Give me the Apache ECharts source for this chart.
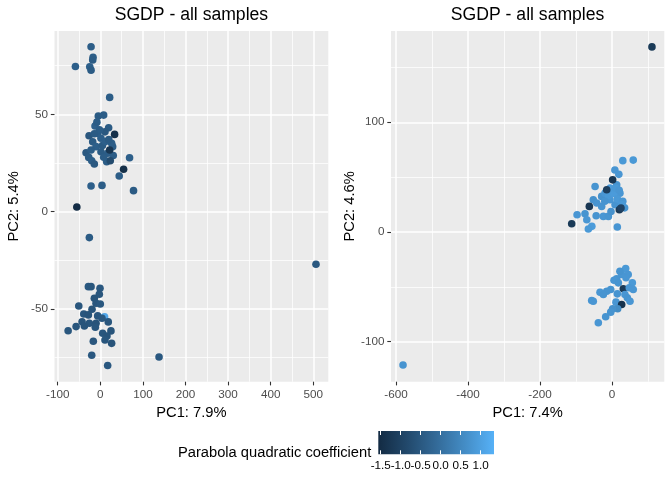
<!DOCTYPE html>
<html>
<head>
<meta charset="utf-8">
<script src="https://cdn.jsdelivr.net/npm/echarts@6/dist/echarts.min.js"></script>
<style>
  html, body { margin: 0; padding: 0; background: #fff; }
  #chart { width: 672px; height: 480px; }
</style>
</head>
<body>
<div id="chart"></div>
<script>
// left panel (PC1 7.9% / PC2 5.4%)
var leftPC1 = [
  -21.7, -58.4, -17, -17.8, -24.8, -21.7, 22, -4.7, 7.9, -12.4, 19.6, -26.4, -6.1, 1.6, 11,
  26.6, -17.8, -10, 29, -33.4, -21.7, 1.6, 17.3, 30.4, 68.7, -27.1, -20.1, -14, 15, 23.4,
  44.4, -21.7, 4, 78, -25.7, -8, -2, 5, 12, -14, 8, 20, 33.6, 22, 54.7, -55.1,
  506.3, 137.9, -28, -21.7, -0.7, -2.3, -14, -10, 0, -50.5, -19.4, -38.8, -28, -6.1, 10,
  4, 18.7, -42.8, -25.7, -10, -56.8, -37.4, -11.7, -75.5, 25, 5.6, 15.7, 11, -16.4, 26.6,
  -20.1, 17.3
];
var leftPC2 = [
  84.7, 74.6, 79.3, 77.9, 74.4, 72.7, 58.7, 49.1, 49.6, 44, 43.1, 39, 40.2, 37.7, 41,
  35.1, 35.9, 33.4, 33.4, 30.3, 31.7, 30.8, 30, 28.9, 27.7, 27.9, 26.2, 24.5, 25.7, 26.2,
  18.3, 13.2, 13.5, 10.8, -13.3, 46, 42, 34, 36, 40, 28, 37, 39.7, 31.7, 21.8, 2.4,
  -27, -74.6, -38.5, -38.5, -39.3, -42.4, -44.5, -47, -47.4, -48.4, -50.1, -52.5, -53, -53.5, -54,
  -54.7, -56.6, -56.5, -57.3, -57.3, -59, -58.7, -59.3, -61.1, -61.2, -62.4, -63.8, -65.9, -66.5, -67.6,
  -73.7, -79
];
var leftCoef = [
  -0.40, -0.35, -0.40, -0.45, -0.35, -0.45, -0.40, -0.45, -0.40, -0.30, -0.45, -0.55, -0.40, -0.35, -0.50,
  -0.40, -0.45, -0.35, -0.40, -0.50, -0.40, -0.45, -0.40, -0.40, -0.35, -0.45, -0.40, -0.50, -0.40, -0.80,
  -0.40, -0.35, -0.40, -0.45, -0.45, -0.40, -0.40, -0.45, -0.35, -0.45, -0.40, -0.45, -1.45, -1.30, -1.45, -1.50,
  -0.50, -0.50, -0.50, -0.55, -0.50, -0.55, -0.60, -0.55, -0.50, -0.55, -0.60, -0.55, -0.60, -0.55, 1.10,
  -0.50, -0.55, -0.60, -0.55, -0.60, -0.55, -0.60, -0.55, -0.55, -0.60, -0.55, -0.60, -0.55, -0.55, -0.60,
  -0.50, -0.50
];

// right panel (PC1 7.4% / PC2 4.6%)
var rightPC1 = [
  111, 30, 59, 8, 19, -47, 13, -97, -75, -70, -56, -65.7, 14.8, -44, -24, -10, -2.8,
  -52, -42.5, -28.7, -19.4, -1, 22, -28.7, -5.6, 8.3, 26.9, -10, 5, 15, 30, -5, 10, -20, 20, 35, 28,
  -112, -63, 1.8, -14.7, 20.4, 25,
  38, 26.9, 22, 45, 13, 5.6, 17.6, 38.9, 56.5, 31.5, 48, 59, -3.6, -14.7, -33.3, -24, 14.8,
  36, 42.6, 50, -56.5, -52, 11, 26.9, 15.7, 1.8, -3.6, -17.6, -38, -580.6
];
var rightPC2 = [
  168.7, 65, 65.5, 56.5, 52.5, 41.5, 43, 15.7, 16.6, 11.2, 5.1, 2.7, 4.5, 14.8, 14.2, 14.2, 18.7,
  29.4, 26.4, 32.4, 35.4, 38.5, 35.4, 23.3, 29.4, 24.8, 26.4, 33, 35, 30, 28, 40, 40, 28, 38, 22, 25,
  7.5, 23.3, 47.5, 38.5, 20.3, 21.8,
  -33.4, -38.8, -35.8, -38.8, -42.7, -44, -46.4, -41.8, -46.4, -51.8, -50.9, -52.5, -52.5, -54, -54.9, -57, -56.4,
  -57, -60, -63.1, -62.5, -63.1, -64, -66.1, -70, -70, -73.1, -77.3, -82.7, -121.3
];
var rightCoef = [
  -1.20, 0.85, 0.85, 0.80, 0.80, 0.75, 0.75, 0.80, 0.75, 0.80, 0.90, 0.85, 0.80, 0.75, 0.80, 0.75, 0.70,
  0.70, 0.75, 0.70, 0.80, 0.75, 0.80, 0.75, 0.80, 0.75, 0.80, 0.85, 0.90, 0.85, 0.80, 0.90, 0.85, 0.75, 0.80, 0.75, 0.85,
  -1.20, -1.30, -1.30, -1.10, -1.20, -1.00,
  0.85, 0.80, 0.75, 0.80, 0.75, 0.80, 0.75, 0.80, 0.85, -1.20, 0.80, 0.80, 0.75, 0.75, 0.80, 0.75, 0.75,
  0.80, 0.75, 0.80, 0.80, 0.80, 0.80, -1.40, 0.60, 0.70, 0.75, 0.75, 0.80, 0.75
];

// axis ticks (major) and minor grid positions
var leftXTicks = [-100, 0, 100, 200, 300, 400, 500];
var leftXMinor = [-50, 50, 150, 250, 350, 450];
var leftYTicks = [-50, 0, 50];
var leftYMinor = [-75, -25, 25, 75];
var rightXTicks = [-600, -400, -200, 0];
var rightXMinor = [-500, -300, -100, 100];
var rightYTicks = [-100, 0, 100];
var rightYMinor = [-50, 50, 150];
var barTicks = [-1.5, -1.0, -0.5, 0.0, 0.5, 1.0];

// ggplot default gradient (#132B43 -> #56B1F7, Lab interpolated)
var gradColors = ['#132B43', '#22496C', '#336A98', '#448DC6', '#56B1F7'];
var coefMin = -1.56, coefMax = 1.333;

var FONT = '"Liberation Sans", Arial, Helvetica, sans-serif';

function toPoints(xs, ys, cs) {
  return xs.map(function (x, i) { return [x, ys[i], cs[i]]; });
}

// a visible axis with ticks, labels, major grid lines
function panelAxis(grid, min, max, ticks, name, gap) {
  return {
    type: 'value',
    gridIndex: grid,
    min: min,
    max: max,
    name: name,
    nameLocation: 'middle',
    nameGap: gap,
    nameTextStyle: { fontFamily: FONT, fontSize: 14.7, color: '#000' },
    axisLine: { show: false, onZero: false },
    axisTick: { show: true, customValues: ticks, length: 3.7, lineStyle: { color: '#333333', width: 1.1 } },
    axisLabel: {
      show: true, customValues: ticks, margin: 6.6,
      fontFamily: FONT, fontSize: 11.7, color: '#4D4D4D'
    },
    splitLine: { show: true, showMinLine: true, showMaxLine: true, lineStyle: { color: '#FFFFFF', width: 1.5 } }
  };
}

// an invisible axis used only for the thin minor grid lines
function minorAxis(grid, min, max, ticks) {
  return {
    type: 'value',
    gridIndex: grid,
    min: min,
    max: max,
    axisLine: { show: false, onZero: false },
    axisTick: { show: false, customValues: ticks },
    axisLabel: { show: false, customValues: ticks },
    splitLine: { show: true, showMinLine: true, showMaxLine: true, lineStyle: { color: '#FFFFFF', width: 0.75 } }
  };
}

function barAxis(pos, withLabels) {
  return {
    type: 'value',
    gridIndex: 2,
    position: pos,
    min: coefMin,
    max: coefMax,
    axisLine: { show: false, onZero: false },
    axisTick: { show: true, inside: true, customValues: barTicks, length: 4, lineStyle: { color: '#FFFFFF', width: 1 } },
    axisLabel: {
      show: withLabels, customValues: barTicks, margin: 5.4,
      fontFamily: FONT, fontSize: 11.7, color: '#000',
      formatter: function (v) { return v.toFixed(1); }
    },
    splitLine: { show: false }
  };
}

var chart = echarts.init(document.getElementById('chart'), null, { renderer: 'canvas' });

var option = {
  animation: false,
  backgroundColor: '#FFFFFF',
  grid: [
    { left: 54.5, top: 31, width: 273.8, height: 350.7, show: true, backgroundColor: '#EBEBEB', borderWidth: 0, containLabel: false, outerBoundsMode: 'none' },
    { left: 391, top: 31, width: 273.3, height: 350.7, show: true, backgroundColor: '#EBEBEB', borderWidth: 0, containLabel: false, outerBoundsMode: 'none' },
    {
      left: 378.3, top: 431, width: 115.7, height: 23.3, show: true, borderWidth: 0, containLabel: false, outerBoundsMode: 'none',
      backgroundColor: {
        type: 'linear', x: 0, y: 0, x2: 1, y2: 0,
        colorStops: gradColors.map(function (c, i) { return { offset: i / (gradColors.length - 1), color: c }; })
      }
    }
  ],
  xAxis: [
    panelAxis(0, -107.5, 535.2, leftXTicks, 'PC1: 7.9%', 20),
    panelAxis(1, -614, 145.3, rightXTicks, 'PC1: 7.4%', 20),
    barAxis('bottom', true),
    barAxis('top', false),
    minorAxis(0, -107.5, 535.2, leftXMinor),
    minorAxis(1, -614, 145.3, rightXMinor)
  ],
  yAxis: [
    panelAxis(0, -87.3, 92.8, leftYTicks, 'PC2: 5.4%', 33),
    panelAxis(1, -136.5, 183.2, rightYTicks, 'PC2: 4.6%', 33),
    { type: 'value', gridIndex: 2, min: 0, max: 1, show: false, splitLine: { show: false } },
    minorAxis(0, -87.3, 92.8, leftYMinor),
    minorAxis(1, -136.5, 183.2, rightYMinor)
  ],
  visualMap: {
    type: 'continuous',
    show: false,
    dimension: 2,
    seriesIndex: [0, 1],
    min: coefMin,
    max: coefMax,
    inRange: { color: gradColors }
  },
  series: [
    {
      type: 'scatter', xAxisIndex: 0, yAxisIndex: 0,
      symbolSize: 7.6, itemStyle: { opacity: 1 },
      emphasis: { disabled: true }, silent: true,
      data: toPoints(leftPC1, leftPC2, leftCoef)
    },
    {
      type: 'scatter', xAxisIndex: 1, yAxisIndex: 1,
      symbolSize: 7.6, itemStyle: { opacity: 1 },
      emphasis: { disabled: true }, silent: true,
      data: toPoints(rightPC1, rightPC2, rightCoef)
    }
  ],
  graphic: [
    { type: 'text', x: 191.4, y: 15, silent: true,
      style: { text: 'SGDP - all samples', font: '17.6px ' + FONT, fill: '#000', textAlign: 'center', textVerticalAlign: 'middle' } },
    { type: 'text', x: 527.6, y: 15, silent: true,
      style: { text: 'SGDP - all samples', font: '17.6px ' + FONT, fill: '#000', textAlign: 'center', textVerticalAlign: 'middle' } },
    { type: 'text', x: 178, y: 453, silent: true,
      style: { text: 'Parabola quadratic coefficient', font: '14.7px ' + FONT, fill: '#000', textAlign: 'left', textVerticalAlign: 'middle' } }
  ]
};

chart.setOption(option);
</script>
</body>
</html>
